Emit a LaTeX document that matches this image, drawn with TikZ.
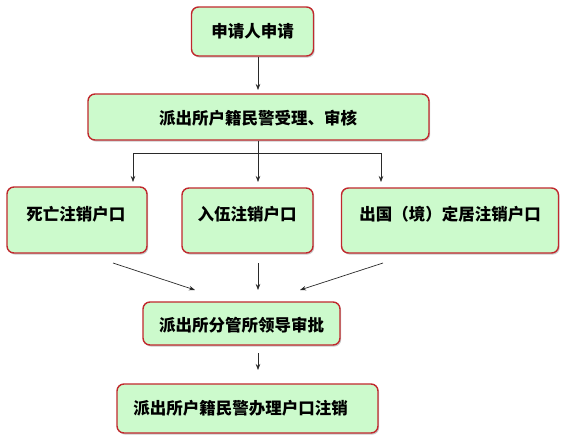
\documentclass[tikz,border=0pt]{standalone}
\usepackage{fontspec}
\newfontfamily\cjk{Noto Sans CJK SC}
\usetikzlibrary{arrows.meta,shadows}
\definecolor{boxfill}{HTML}{CCFACC}
\definecolor{boxedge}{HTML}{C0282D}
\definecolor{arrcol}{HTML}{2A2A2A}
\tikzset{
  box/.style={draw=boxedge, line width=1.4pt, fill=boxfill, rounded corners=7pt,
    inner sep=0pt, drop shadow={shadow xshift=1.2pt, shadow yshift=-1.6pt, fill=black!35, opacity=0.6}},
  txt/.style={inner sep=0pt, font=\cjk\bfseries\fontsize{16.5pt}{18pt}\selectfont, text=black},
  arr/.style={draw=arrcol, line width=0.7pt, -{Stealth[length=6pt,width=4.5pt]}},
  ln/.style={draw=arrcol, line width=0.7pt}
}
\begin{document}
\begin{tikzpicture}[x=1pt,y=-1pt]
\useasboundingbox (0,0) rectangle (563,445);
% boxes
\node[box, minimum width=122pt, minimum height=49pt] (b1) at (252.5,31.5) {};
\node[txt] (t1) at (252.5,31.5) {申请人申请};
\node[box, minimum width=341pt, minimum height=46pt] (b2) at (258.5,117) {};
\node[txt] (t2) at (258,118) {派出所户籍民警受理、审核};
\node[box, minimum width=140pt, minimum height=66pt] (b3a) at (77,220) {};
\node[txt] (t3a) at (76,214) {死亡注销户口};
\node[box, minimum width=131pt, minimum height=65pt] (b3b) at (247.5,220.5) {};
\node[txt] (t3b) at (247,214) {入伍注销户口};
\node[box, minimum width=217pt, minimum height=65pt] (b3c) at (450,220.5) {};
\node[txt] (t3c) at (450,214) {出国（境）定居注销户口};
\node[box, minimum width=197pt, minimum height=43pt] (b4) at (241.5,323.5) {};
\node[txt] (t4) at (241.5,325) {派出所分管所领导审批};
\node[box, minimum width=261pt, minimum height=49pt] (b5) at (247.5,408.5) {};
\node[txt] (t5) at (240.5,408) {派出所户籍民警办理户口注销};
% connectors
\coordinate (a1) at (258,90);
\draw[arr] (b1.south -| a1) -- (a1);
\coordinate (f) at (258,153);
\coordinate (fl) at (133,153);
\coordinate (fr) at (381,153);
\draw[ln] (b2.south -| f) -- (f);
\draw[ln] (fl) -- (fr);
\coordinate (e3a) at (133,182);
\coordinate (e3b) at (258,182);
\coordinate (e3c) at (381,182);
\draw[arr] (fl) -- (e3a);
\draw[arr] (f) -- (e3b);
\draw[arr] (fr) -- (e3c);
\coordinate (s1) at (113,263);
\coordinate (c1) at (195,290);
\coordinate (s2) at (258,263);
\coordinate (c2) at (258,290);
\coordinate (s3) at (383,263);
\coordinate (c3) at (300,290);
\draw[arr] (s1) -- (c1);
\draw[arr] (s2) -- (c2);
\draw[arr] (s3) -- (c3);
\coordinate (s4) at (258,353);
\coordinate (c4) at (258,370);
\draw[arr] (s4) -- (c4);
\end{tikzpicture}
\end{document}
